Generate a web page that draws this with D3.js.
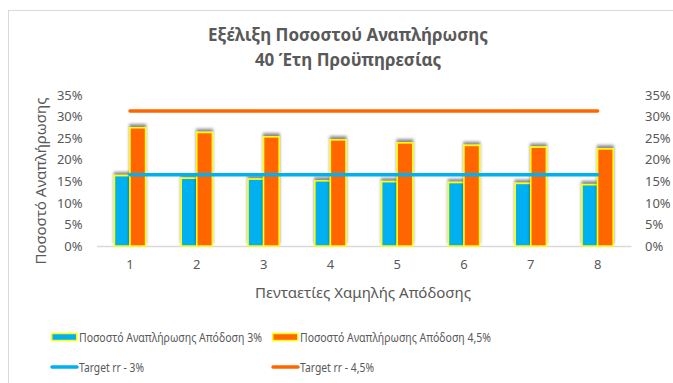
<!DOCTYPE html>
<html>
<head>
<meta charset="utf-8">
<script src="https://cdn.jsdelivr.net/npm/d3@7"></script>
<style>
  body { margin: 0; background: #fff; }
  text { font-family: "Noto Sans", sans-serif; fill: #595959; }
</style>
</head>
<body>
<div id="chart"></div>
<script>
// Chart data
const periods = ["1", "2", "3", "4", "5", "6", "7", "8"];
const rate3 = [0.163, 0.157, 0.155, 0.151, 0.149, 0.147, 0.145, 0.142];
const rate45 = [0.274, 0.263, 0.253, 0.246, 0.239, 0.233, 0.229, 0.225];
const target3 = [0.165, 0.165, 0.165, 0.165, 0.165, 0.165, 0.165, 0.165];
const target45 = [0.313, 0.313, 0.313, 0.313, 0.313, 0.313, 0.313, 0.313];
const yTicks = [0, 0.05, 0.10, 0.15, 0.20, 0.25, 0.30, 0.35];

const titleLines = ["Εξέλιξη Ποσοστού Αναπλήρωσης", "40 Έτη Προϋπηρεσίας"];
const seriesNames = [
    "Ποσοστό Αναπλήρωσης Απόδοση 3%",
    "Ποσοστό Αναπλήρωσης Απόδοση 4,5%",
    "Target rr - 3%",
    "Target rr - 4,5%"
];

const blue = "#00b0f0";
const orange = "#ff6600";

const W = 673, H = 383;
const plot = { left: 96.6, right: 631, top: 95, bottom: 246 };

const svg = d3.select("#chart").append("svg")
    .attr("width", W)
    .attr("height", H);

// drop shadow that shows above the bars
const defs = svg.append("defs");
const f = defs.append("filter").attr("id", "shadow")
    .attr("x", "-30%").attr("y", "-30%").attr("width", "160%").attr("height", "160%");
f.append("feDropShadow")
    .attr("dx", 0).attr("dy", -3)
    .attr("stdDeviation", 1.6)
    .attr("flood-color", "#000")
    .attr("flood-opacity", 0.45);

// chart frame
svg.append("rect")
    .attr("x", 8.5).attr("y", 10.5)
    .attr("width", W + 10).attr("height", H + 10)
    .attr("fill", "none")
    .attr("stroke", "#d9d9d9");

// scales
const x = d3.scaleBand()
    .domain(periods)
    .range([plot.left, plot.right])
    .paddingInner(0.535)
    .paddingOuter(0.535 / 2);

const xs = d3.scaleBand()
    .domain(["a", "b"])
    .range([0, x.bandwidth()]);

const y = d3.scaleLinear()
    .domain([0, 0.35])
    .range([plot.bottom, plot.top]);

const pct = d3.format(".0%");

// left axis
svg.append("g")
    .attr("transform", `translate(${plot.left},0)`)
    .call(d3.axisLeft(y).tickValues(yTicks).tickFormat(pct).tickSize(0).tickPadding(14))
    .call(g => g.select(".domain").remove())
    .selectAll("text")
    .style("font-size", "13px")
    .attr("fill", "#595959");

// right axis
svg.append("g")
    .attr("transform", `translate(${plot.right},0)`)
    .call(d3.axisRight(y).tickValues(yTicks).tickFormat(pct).tickSize(0).tickPadding(14))
    .call(g => g.select(".domain").remove())
    .selectAll("text")
    .style("font-size", "13px")
    .attr("fill", "#595959");

// bottom axis
svg.append("g")
    .attr("transform", `translate(0,${plot.bottom})`)
    .call(d3.axisBottom(x).tickSize(0).tickPadding(14))
    .call(g => g.select(".domain").attr("stroke", "#d9d9d9").attr("stroke-width", 1.5))
    .selectAll("text")
    .style("font-size", "13px")
    .attr("fill", "#595959");

// bars
const bars = svg.append("g");
bars.selectAll(".b3")
    .data(rate3)
    .enter()
    .append("rect")
    .attr("class", "b3")
    .attr("x", (d, i) => x(periods[i]) + xs("a"))
    .attr("y", d => y(d))
    .attr("width", xs.bandwidth())
    .attr("height", d => plot.bottom - y(d))
    .attr("fill", blue)
    .attr("stroke", "#ffff00")
    .attr("stroke-width", 1.5)
    .attr("filter", "url(#shadow)");

bars.selectAll(".b45")
    .data(rate45)
    .enter()
    .append("rect")
    .attr("class", "b45")
    .attr("x", (d, i) => x(periods[i]) + xs("b"))
    .attr("y", d => y(d))
    .attr("width", xs.bandwidth())
    .attr("height", d => plot.bottom - y(d))
    .attr("fill", orange)
    .attr("stroke", "#ffff00")
    .attr("stroke-width", 1.5)
    .attr("filter", "url(#shadow)");

// target lines
const line = d3.line()
    .x((d, i) => x(periods[i]) + x.bandwidth() / 2)
    .y(d => y(d));

svg.append("path")
    .datum(target45)
    .attr("d", line)
    .attr("fill", "none")
    .attr("stroke", orange)
    .attr("stroke-width", 3.5)
    .attr("stroke-linecap", "round");

svg.append("path")
    .datum(target3)
    .attr("d", line)
    .attr("fill", "none")
    .attr("stroke", blue)
    .attr("stroke-width", 3.5)
    .attr("stroke-linecap", "round");

// title
svg.append("text")
    .attr("x", 348)
    .attr("y", 41)
    .attr("text-anchor", "middle")
    .style("font-size", "17px")
    .style("font-weight", "bold")
    .text(titleLines[0]);
svg.append("text")
    .attr("x", 348)
    .attr("y", 66)
    .attr("text-anchor", "middle")
    .style("font-size", "17px")
    .style("font-weight", "bold")
    .text(titleLines[1]);

// axis titles
svg.append("text")
    .attr("transform", "rotate(-90)")
    .attr("x", -181)
    .attr("y", 46)
    .attr("text-anchor", "middle")
    .style("font-size", "15px")
    .text("Ποσοστό Αναπλήρωσης");

svg.append("text")
    .attr("x", 363)
    .attr("y", 298)
    .attr("text-anchor", "middle")
    .style("font-size", "15px")
    .attr("textLength", 216)
    .attr("lengthAdjust", "spacingAndGlyphs")
    .text("Πενταετίες Χαμηλής Απόδοσης");

// legend
const legend = svg.append("g");
const legendItems = [
    { name: seriesNames[0], type: "bar", color: blue, x: 51, y: 337, w: 183 },
    { name: seriesNames[1], type: "bar", color: orange, x: 272, y: 337, w: 191 },
    { name: seriesNames[2], type: "line", color: blue, x: 51, y: 367, w: 65 },
    { name: seriesNames[3], type: "line", color: orange, x: 272, y: 367, w: 74 }
];
legendItems.forEach(d => {
    if (d.type === "bar") {
        legend.append("rect")
            .attr("x", d.x + 0.75).attr("y", d.y - 3.5)
            .attr("width", 25).attr("height", 7)
            .attr("fill", d.color)
            .attr("stroke", "#ffff00")
            .attr("stroke-width", 1.5);
    } else {
        legend.append("line")
            .attr("x1", d.x + 1).attr("x2", d.x + 26)
            .attr("y1", d.y).attr("y2", d.y)
            .attr("stroke", d.color)
            .attr("stroke-width", 3.5)
            .attr("stroke-linecap", "round");
    }
    legend.append("text")
        .attr("x", d.x + 28)
        .attr("y", d.y)
        .attr("dy", "0.35em")
        .style("font-size", "13px")
        .attr("textLength", d.w)
        .attr("lengthAdjust", "spacingAndGlyphs")
        .text(d.name);
});
</script>
</body>
</html>
